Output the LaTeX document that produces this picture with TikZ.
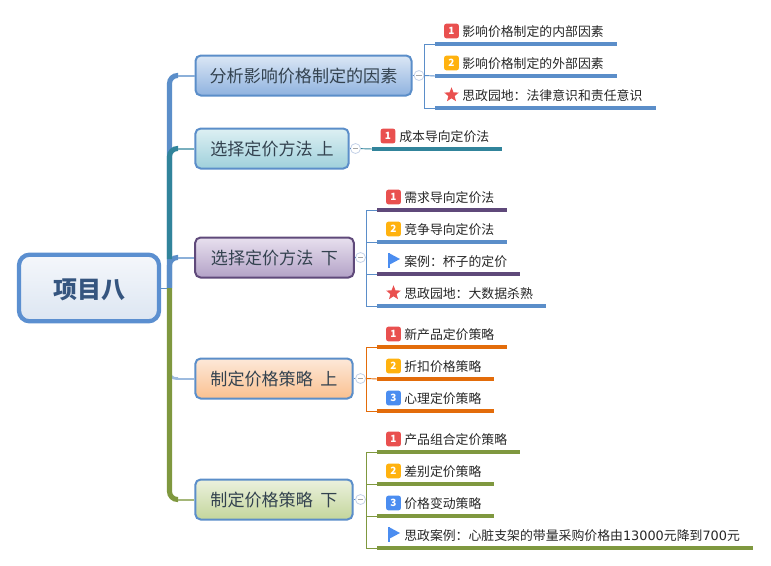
\documentclass[tikz,border=0pt]{standalone}
\usepackage{fontspec}
\setmainfont{Noto Sans CJK SC}
\newfontfamily\digitfont{DejaVu Sans}
\usetikzlibrary{calc,positioning,shapes.geometric}
\definecolor{rootblue}{HTML}{5B8FD0}
\definecolor{branchblue}{HTML}{5B8EC9}
\definecolor{branchteal}{HTML}{31849B}
\definecolor{branchpurple}{HTML}{5F497A}
\definecolor{branchorange}{HTML}{E36C0A}
\definecolor{branchgreen}{HTML}{7F983F}
\definecolor{toggleline}{HTML}{C5D2E8}
\definecolor{badgered}{HTML}{E9504F}
\definecolor{badgeyellow}{HTML}{FFB20F}
\definecolor{badgeblue}{HTML}{4B8DF0}
\definecolor{topicink}{HTML}{33424F}
\definecolor{rootink}{HTML}{35557F}
\tikzset{
  topic/.style={draw=branchblue,line width=1.5pt,rounded corners=4pt,inner sep=0pt,
    minimum height=30pt,text height=12.5pt,text depth=2pt,
    font=\fontsize{12.8pt}{14pt}\selectfont,text=topicink},
  spine/.style={line width=3.8pt,rounded corners=6pt},
  stalk/.style={line width=1.5pt},
  toggle/.style={circle,draw=toggleline,fill=white,line width=.6pt,minimum size=7.5pt,inner sep=0pt,
    path picture={\draw[black!35] ($(path picture bounding box.west)+(1.8pt,0)$) -- ($(path picture bounding box.east)+(-1.8pt,0)$);}},
  twig/.style={line width=.7pt},
  rule/.style={line width=2.3pt},
  leaf/.style={anchor=west,inner sep=0pt,font=\fontsize{9.65pt}{11pt}\selectfont,text=black!85},
  badge/.style={fill=#1,rounded corners=2pt,minimum size=11.2pt,inner sep=0pt,text=white,
    font=\fontsize{7.5pt}{8pt}\bfseries\selectfont},
  starmark/.style={star,star points=5,star point ratio=2.3,fill=badgered,minimum size=11.5pt,inner sep=0pt}
}
\newcommand{\flagat}[1]{%
  \fill[badgeblue] ($(#1)+(-3.8pt,5.2pt)$) -- ($(#1)+(4.5pt,.75pt)$) -- ($(#1)+(-3.8pt,-3.7pt)$) -- cycle;
  \draw[badgeblue,line width=1.1pt] ($(#1)+(-3.8pt,5.2pt)$) -- ($(#1)+(-3.8pt,-6pt)$);}
\begin{document}
\begin{tikzpicture}[x=.75pt,y=-.75pt]
  \useasboundingbox (0,0) rectangle (771,565);
  % root and topics
  \node[draw=rootblue,line width=3.2pt,rounded corners=8pt,top color={rgb,255:red,245;green,247;blue,251},bottom color={rgb,255:red,220;green,230;blue,242},
    minimum width=105pt,minimum height=50pt,inner sep=0pt,text height=18.5pt,text depth=2.5pt,
    font=\fontsize{18pt}{20pt}\bfseries\selectfont,text=rootink] (root) at (89,288) {项目八};
  \node[topic,minimum width=162pt,top color={rgb,255:red,219;green,231;blue,245},bottom color={rgb,255:red,143;green,178;blue,223}] (factors) at (303.5,75.5) {分析影响价格制定的因素};
  \node[topic,minimum width=115pt,top color={rgb,255:red,221;green,240;blue,243},bottom color={rgb,255:red,159;green,208;blue,219}] (costup) at (272,148.5) {选择定价方法 上};
  \node[topic,draw=branchpurple,minimum width=119pt,top color={rgb,255:red,232;green,224;blue,238},bottom color={rgb,255:red,179;green,162;blue,199}] (costdown) at (274.5,257.5) {选择定价方法\ \ 下};
  \node[topic,minimum width=118pt,top color={rgb,255:red,253;green,233;blue,217},bottom color={rgb,255:red,250;green,192;blue,144}] (strategyup) at (274,378.5) {制定价格策略\ \ 上};
  \node[topic,minimum width=118pt,top color={rgb,255:red,235;green,241;blue,222},bottom color={rgb,255:red,195;green,214;blue,155}] (strategydown) at (274,499.5) {制定价格策略\ \ 下};

  % trunk
  \coordinate (trunk) at (169.5,288);
  \coordinate (kneea) at (178,75.5);
  \coordinate (kneeb) at (178,148.5);
  \coordinate (kneec) at (178,257.5);
  \coordinate (kneed) at (178,378.5);
  \coordinate (kneee) at (178,499.5);
  \draw[twig,branchblue] (root.east) -- (trunk);
  \draw[spine,branchblue] (trunk) |- (kneea);
  \draw[stalk,branchblue!70] (kneea) -- (factors.west);
  \draw[spine,branchblue] (trunk) |- (kneec);
  \draw[stalk,branchblue!70] (kneec) -- (costdown.west);
  \draw[spine,branchteal] ($(trunk)+(0,-29)$) |- (kneeb);
  \draw[stalk,branchteal!65] (kneeb) -- (costup.west);
  \draw[line width=2pt,rounded corners=5pt,branchblue!60] (trunk) |- (kneed);
  \draw[stalk,branchblue!60] (kneed) -- (strategyup.west);
  \draw[spine,branchgreen] (trunk) |- (kneee);
  \draw[stalk,branchgreen!70] (kneee) -- (strategydown.west);

  % toggles
  \node[toggle] (togglea) at (419,75.5) {};
  \node[toggle] (toggleb) at (355.5,148.5) {};
  \node[toggle] (togglec) at (360.5,257.5) {};
  \node[toggle] (toggled) at (360.5,378.5) {};
  \node[toggle] (togglee) at (360.5,499.5) {};
  \draw[twig,branchblue] (factors.east) -- (togglea);
  \draw[twig,branchblue] (costup.east) -- (toggleb);
  \draw[twig,branchblue] (costdown.east) -- (togglec);
  \draw[twig,branchblue] (strategyup.east) -- (toggled);
  \draw[twig,branchblue] (strategydown.east) -- (togglee);

  % factors
  \coordinate (busa) at (424.5,75.5);
  \draw[twig,branchblue] (togglea) -- (busa);
  \coordinate (a1s) at (435,44); \coordinate (a1e) at (617,44);
  \coordinate (a2s) at (435,76); \coordinate (a2e) at (617,76);
  \coordinate (a3s) at (435,108); \coordinate (a3e) at (656,108);
  \draw[twig,branchblue] (a1s) -| (busa) |- (a3s);
  \draw[twig,branchblue] (busa) -- (a2s);
  \draw[rule,branchblue] (a1s) -- (a1e);
  \draw[rule,branchblue] (a2s) -- (a2e);
  \draw[rule,branchblue] (a3s) -- (a3e);
  \node[badge=badgered] (a1m) at (451.5,31) {1};
  \node[leaf] (a1) at (462,32) {影响价格制定的内部因素};
  \node[badge=badgeyellow] (a2m) at (451.5,63) {2};
  \node[leaf] (a2) at (462,64) {影响价格制定的外部因素};
  \node[starmark] (a3m) at (451.5,95) {};
  \node[leaf] (a3) at (462,96) {思政园地：法律意识和责任意识};

  % cost
  \coordinate (b1s) at (372,149); \coordinate (b1e) at (502,149);
  \draw[twig,branchteal] (toggleb) -- (b1s);
  \draw[rule,branchteal] (b1s) -- (b1e);
  \node[badge=badgered] (b1m) at (388,136) {1};
  \node[leaf] (b1) at (399,137) {成本导向定价法};

  % demand
  \coordinate (busc) at (366.5,257.5);
  \draw[twig,branchblue] (togglec) -- (busc);
  \coordinate (c1s) at (377,210); \coordinate (c1e) at (507,210);
  \coordinate (c2s) at (377,242); \coordinate (c2e) at (507,242);
  \coordinate (c3s) at (377,274); \coordinate (c3e) at (520,274);
  \coordinate (c4s) at (377,306); \coordinate (c4e) at (546,306);
  \draw[twig,branchblue] (c1s) -| (busc) |- (c4s);
  \draw[twig,branchblue] (c2s) -| (busc) |- (c3s);
  \draw[rule,branchpurple] (c1s) -- (c1e);
  \draw[rule,branchblue] (c2s) -- (c2e);
  \draw[rule,branchpurple] (c3s) -- (c3e);
  \draw[rule,branchblue] (c4s) -- (c4e);
  \node[badge=badgered] (c1m) at (393.5,197) {1};
  \node[leaf] (c1) at (404,198) {需求导向定价法};
  \node[badge=badgeyellow] (c2m) at (393.5,229) {2};
  \node[leaf] (c2) at (404,230) {竞争导向定价法};
  \coordinate (c3m) at (394,260);
  \flagat{c3m}
  \node[leaf] (c3) at (404,262) {案例：杯子的定价};
  \node[starmark] (c4m) at (393.5,293) {};
  \node[leaf] (c4) at (404,294) {思政园地：大数据杀熟};

  % strategy up
  \coordinate (busd) at (366.5,378.5);
  \draw[twig,branchorange] (toggled) -- (busd);
  \coordinate (d1s) at (377,347); \coordinate (d1e) at (507,347);
  \coordinate (d2s) at (377,379); \coordinate (d2e) at (494,379);
  \coordinate (d3s) at (377,411); \coordinate (d3e) at (494,411);
  \draw[twig,branchorange] (d1s) -| (busd) |- (d3s);
  \draw[twig,branchorange] (busd) -- (d2s);
  \draw[rule,branchorange] (d1s) -- (d1e);
  \draw[rule,branchorange] (d2s) -- (d2e);
  \draw[rule,branchorange] (d3s) -- (d3e);
  \node[badge=badgered] (d1m) at (393.5,334) {1};
  \node[leaf] (d1) at (404,335) {新产品定价策略};
  \node[badge=badgeyellow] (d2m) at (393.5,366) {2};
  \node[leaf] (d2) at (404,367) {折扣价格策略};
  \node[badge=badgeblue] (d3m) at (393.5,398) {3};
  \node[leaf] (d3) at (404,399) {心理定价策略};

  % strategy down
  \coordinate (buse) at (366.5,499.5);
  \draw[twig,branchgreen] (togglee) -- (buse);
  \coordinate (e1s) at (377,452); \coordinate (e1e) at (520,452);
  \coordinate (e2s) at (377,484); \coordinate (e2e) at (494,484);
  \coordinate (e3s) at (377,516); \coordinate (e3e) at (494,516);
  \coordinate (e4s) at (377,548); \coordinate (e4e) at (753,548);
  \draw[twig,branchgreen] (e1s) -| (buse) |- (e4s);
  \draw[twig,branchgreen] (e2s) -| (buse) |- (e3s);
  \draw[rule,branchgreen] (e1s) -- (e1e);
  \draw[rule,branchgreen] (e2s) -- (e2e);
  \draw[rule,branchgreen] (e3s) -- (e3e);
  \draw[rule,branchgreen] (e4s) -- (e4e);
  \node[badge=badgered] (e1m) at (393.5,439) {1};
  \node[leaf] (e1) at (404,440) {产品组合定价策略};
  \node[badge=badgeyellow] (e2m) at (393.5,471) {2};
  \node[leaf] (e2) at (404,472) {差别定价策略};
  \node[badge=badgeblue] (e3m) at (393.5,503) {3};
  \node[leaf] (e3) at (404,504) {价格变动策略};
  \coordinate (e4m) at (394,534);
  \flagat{e4m}
  \node[leaf] (e4) at (404,536) {思政案例：心脏支架的带量采购价格由{\digitfont 13000}元降到{\digitfont 700}元};
\end{tikzpicture}
\end{document}
